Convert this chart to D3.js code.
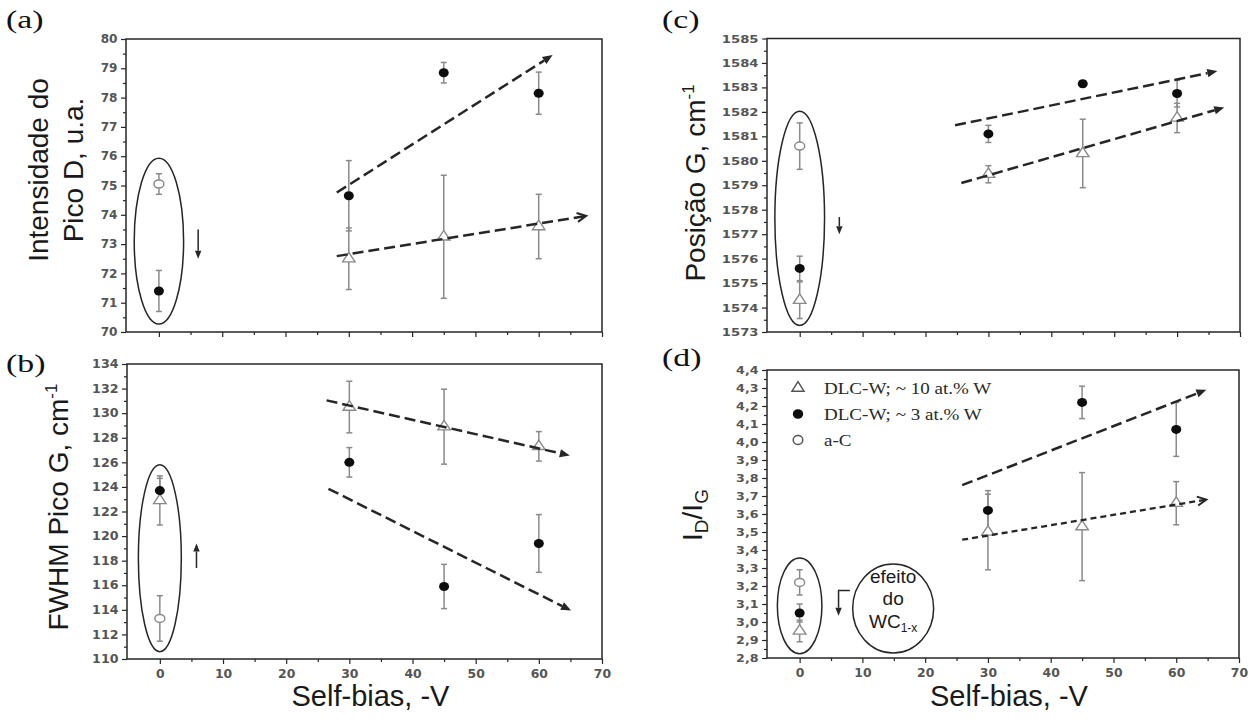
<!DOCTYPE html>
<html>
<head>
<meta charset="utf-8">
<script src="https://cdn.jsdelivr.net/npm/d3@7"></script>
<style>
  body { margin: 0; background: #fff; }
  svg { display: block; }
</style>
</head>
<body>
<svg id="fig" width="1258" height="722"></svg>
<script>
// ---------- data ----------
const biasLevels = [0, 30, 45, 60];          // self-bias, -V
const biasTicks = [0, 10, 20, 30, 40, 50, 60, 70];

// (a) D-peak intensity, u.a.
const intD_W10 = [null, 72.5, 73.25, 73.6];
const intD_W10_err = [null, 1.05, 2.1, 1.1];
const intD_W3 = [71.4, 74.65, 78.85, 78.15];
const intD_W3_err = [0.7, 1.2, 0.35, 0.72];
const intD_aC = [75.05];
const intD_aC_err = [0.35];
const intD_ticks = [70, 71, 72, 73, 74, 75, 76, 77, 78, 79, 80];
const intD_trends = [[28.1, 74.76, 62.2, 79.45], [28.1, 72.59, 67.5, 73.96]];
const intD_group = [0, 73.1, 3.9, 2.83];           // cx, cy, rx, ry
const intD_shift = [[6.2, 73.5], [6.2, 72.5]];

// (b) G-peak FWHM, cm-1
const fwhmG_W10 = [122.9, 130.5, 128.9, 127.3];
const fwhmG_W10_err = [2.0, 2.1, 3.05, 1.2];
const fwhmG_W3 = [123.7, 126.0, 115.9, 119.4];
const fwhmG_W3_err = [1.0, 1.2, 1.8, 2.35];
const fwhmG_aC = [113.3];
const fwhmG_aC_err = [1.85];
const fwhmG_ticks = [110, 112, 114, 116, 118, 120, 122, 124, 126, 128, 130, 132, 134];
const fwhmG_trends = [[26.4, 131.04, 64.9, 126.56], [26.7, 123.85, 65.1, 113.94]];
const fwhmG_group = [0, 118.2, 3.4, 7.6];
const fwhmG_shift = [[5.8, 117.4], [5.8, 119.4]];

// (c) G-peak position, cm-1
const posG_W10 = [1574.3, 1579.45, 1580.3, 1581.75];
const posG_W10_err = [0.75, 0.35, 1.4, 0.6];
const posG_W3 = [1575.6, 1581.1, 1583.15, 1582.75];
const posG_W3_err = [0.5, 0.35, 0.12, 0.55];
const posG_aC = [1580.6];
const posG_aC_err = [0.95];
const posG_ticks = [1573, 1574, 1575, 1576, 1577, 1578, 1579, 1580, 1581, 1582, 1583, 1584, 1585];
const posG_trends = [[24.7, 1581.45, 66.4, 1583.67], [25.7, 1579.09, 67.5, 1582.18]];
const posG_group = [0, 1577.65, 3.95, 4.38];
const posG_shift = [[6.3, 1577.7], [6.3, 1577.0]];

// (d) ID/IG ratio
const ratio_W10 = [2.95, 3.50, 3.53, 3.66];
const ratio_W10_err = [0.06, 0.21, 0.30, 0.12];
const ratio_W3 = [3.05, 3.62, 4.22, 4.07];
const ratio_W3_err = [0.05, 0.11, 0.09, 0.15];
const ratio_aC = [3.22];
const ratio_aC_err = [0.07];
const ratio_ticks = [2.8, 2.9, 3.0, 3.1, 3.2, 3.3, 3.4, 3.5, 3.6, 3.7, 3.8, 3.9, 4.0, 4.1, 4.2, 4.3, 4.4];
const ratio_trends = [[25.9, 3.76, 64.8, 4.29], [25.9, 3.457, 64.8, 3.68]];
const ratio_group = [0, 3.09, 3.55, 0.266];
const ratio_shift = [[8.0, 3.175], [6.2, 3.175], [6.2, 3.035]];
const wcNote = [14.9, 3.075, 6.45, 0.247];

const legendLabels = ["DLC-W; ~ 10 at.% W", "DLC-W; ~ 3 at.% W", "a-C"];

// ---------- drawing ----------
const svg = d3.select("#fig");
const xDomain = [-5.2, 70];
const INK = "#262626", GREY = "#8a8a8a", TICKTXT = "#555";

function tri(w, h) {
  return `M0,${-h * 2 / 3}L${w / 2},${h / 3}L${-w / 2},${h / 3}Z`;
}

function arrowHead(g, x1, y1, x2, y2, type) {
  const a = Math.atan2(y2 - y1, x2 - x1);
  const L = type === "open" ? 9 : 10, W = type === "open" ? 4.5 : 4.2;
  const bx = x2 - L * Math.cos(a), by = y2 - L * Math.sin(a);
  const px = -Math.sin(a) * W, py = Math.cos(a) * W;
  if (type === "open") {
    g.append("path")
      .attr("d", `M${bx + px},${by + py}L${x2},${y2}L${bx - px},${by - py}`)
      .attr("fill", "none").attr("stroke", INK).attr("stroke-width", 2);
  } else {
    g.append("path")
      .attr("d", `M${x2},${y2}L${bx + px},${by + py}L${bx - px},${by - py}Z`)
      .attr("fill", INK);
  }
  return [bx, by];
}

function drawPanel(p) {
  const g = svg.append("g");
  const x = d3.scaleLinear().domain(xDomain).range([p.left, p.right]);
  const y = d3.scaleLinear().domain(d3.extent(p.ticks)).range([p.bottom, p.top]);

  // y axis: labelled major ticks + minor ticks
  const step = p.ticks[1] - p.ticks[0];
  const yMinor = p.ticks.slice(0, -1).map(v => v + step / 2);
  const ya = g.append("g").attr("transform", `translate(${p.left},0)`)
    .call(d3.axisLeft(y).tickValues(p.ticks).tickSize(5).tickPadding(3).tickFormat(p.fmt));
  g.append("g").attr("transform", `translate(${p.left},0)`)
    .call(d3.axisLeft(y).tickValues(yMinor).tickSize(3).tickFormat(""))
    .call(s => s.select(".domain").remove())
    .selectAll("line").attr("stroke", INK).attr("stroke-width", 1.2);
  ya.select(".domain").remove();
  ya.selectAll("line").attr("stroke", INK).attr("stroke-width", 1.2);
  ya.selectAll("text")
    .attr("font-family", "DejaVu Sans").attr("font-weight", "bold")
    .attr("font-size", p.fs).attr("fill", TICKTXT)
    .attr("x", -8.5 / p.sx).attr("transform", `scale(${p.sx},1)`);

  // x axis
  const xMinor = biasTicks.slice(0, -1).map(v => v + 5);
  const xa = g.append("g").attr("transform", `translate(0,${p.bottom})`)
    .call(d3.axisBottom(x).tickValues(biasTicks).tickSize(5).tickPadding(6)
      .tickFormat(p.xLabels ? d3.format("d") : ""));
  g.append("g").attr("transform", `translate(0,${p.bottom})`)
    .call(d3.axisBottom(x).tickValues(xMinor).tickSize(3).tickFormat(""))
    .call(s => s.select(".domain").remove())
    .selectAll("line").attr("stroke", INK).attr("stroke-width", 1.2);
  xa.select(".domain").remove();
  xa.selectAll("line").attr("stroke", INK).attr("stroke-width", 1.2);
  xa.selectAll("text")
    .attr("font-family", "DejaVu Sans").attr("font-weight", "bold")
    .attr("font-size", 11.5).attr("fill", TICKTXT)
    .attr("transform", "scale(1.08,1)");

  // frame
  g.append("rect")
    .attr("x", p.left).attr("y", p.top)
    .attr("width", p.right - p.left).attr("height", p.bottom - p.top)
    .attr("fill", "none").attr("stroke", INK).attr("stroke-width", 1.5);

  // group ellipse around the unbiased samples
  const [gcx, gcy, grx, gry] = p.group;
  g.append("ellipse")
    .attr("cx", x(gcx)).attr("cy", y(gcy))
    .attr("rx", x(grx) - x(0)).attr("ry", y(gcy - gry) - y(gcy))
    .attr("fill", "none").attr("stroke", INK).attr("stroke-width", 1.5);

  // error bars
  const series = [
    { v: p.w10, e: p.w10e, xs: biasLevels, kind: "tri" },
    { v: p.w3, e: p.w3e, xs: biasLevels, kind: "dot" },
    { v: p.ac, e: p.ace, xs: [0], kind: "ring" }
  ];
  series.forEach(s => {
    s.v.forEach((v, i) => {
      if (v == null) return;
      const cx = x(s.xs[i]), lo = y(v - s.e[i]), hi = y(v + s.e[i]);
      const eb = g.append("g").attr("stroke", GREY).attr("stroke-width", 1.5);
      eb.append("line").attr("x1", cx).attr("x2", cx).attr("y1", lo).attr("y2", hi);
      eb.append("line").attr("x1", cx - 3).attr("x2", cx + 3).attr("y1", lo).attr("y2", lo);
      eb.append("line").attr("x1", cx - 3).attr("x2", cx + 3).attr("y1", hi).attr("y2", hi);
    });
  });
  // markers
  series.forEach(s => {
    s.v.forEach((v, i) => {
      if (v == null) return;
      const cx = x(s.xs[i]), cy = y(v);
      if (s.kind === "tri") {
        g.append("path").attr("d", tri(12.5, 9.5))
          .attr("transform", `translate(${cx},${cy})`)
          .attr("fill", "#fff").attr("stroke", GREY).attr("stroke-width", 1.4);
      } else if (s.kind === "dot") {
        g.append("ellipse").attr("cx", cx).attr("cy", cy).attr("rx", 5).attr("ry", 4.5)
          .attr("fill", "#0d0d0d");
      } else {
        g.append("ellipse").attr("cx", cx).attr("cy", cy).attr("rx", 5).attr("ry", 4)
          .attr("fill", "#fff").attr("stroke", GREY).attr("stroke-width", 1.5);
      }
    });
  });

  // dashed trend arrows
  p.trends.forEach((t, i) => {
    const st = p.trendStyle[i];
    const x1 = x(t[0]), y1 = y(t[1]), x2 = x(t[2]), y2 = y(t[3]);
    const [bx, by] = arrowHead(g, x1, y1, x2, y2, st.head);
    const ex = st.head === "open" ? x2 : bx, ey = st.head === "open" ? y2 : by;
    g.append("line").attr("x1", x1).attr("y1", y1).attr("x2", ex).attr("y2", ey)
      .attr("stroke", INK).attr("stroke-width", st.w).attr("stroke-dasharray", st.dash);
  });

  // small shift arrow
  const pts = p.shift.map(d => [x(d[0]), y(d[1])]);
  const n = pts.length;
  const [hx, hy] = pts[n - 1];
  const [px0, py0] = pts[n - 2];
  const a = Math.atan2(hy - py0, hx - px0);
  const L = 8, W = 3.2;
  const bx = hx - L * Math.cos(a), by = hy - L * Math.sin(a);
  const qx = -Math.sin(a) * W, qy = Math.cos(a) * W;
  g.append("path").attr("d", `M${hx},${hy}L${bx + qx},${by + qy}L${bx - qx},${by - qy}Z`).attr("fill", INK);
  g.append("path").attr("d", d3.line()(pts.slice(0, -1).concat([[bx, by]])))
    .attr("fill", "none").attr("stroke", INK).attr("stroke-width", 1.5);

  // panel letter
  g.append("text").attr("transform", `translate(${p.tag[0]},${p.tag[1]}) scale(1.3,1)`)
    .attr("font-family", "Liberation Serif").attr("font-size", 26).attr("fill", "#111")
    .text(p.tagText);

  return { g, x, y };
}

const fmtInt = d3.format("d");
const fmtComma = v => d3.format(".1f")(v).replace(".", ",");

const pa = drawPanel({
  left: 126, right: 602, top: 39, bottom: 332, sx: 1.05, fs: 11.5,
  ticks: intD_ticks, fmt: fmtInt, xLabels: false,
  w10: intD_W10, w10e: intD_W10_err, w3: intD_W3, w3e: intD_W3_err, ac: intD_aC, ace: intD_aC_err,
  trends: intD_trends,
  trendStyle: [{ head: "filled", dash: "11,5", w: 2.5 }, { head: "open", dash: "11,5", w: 2.5 }],
  group: intD_group, shift: intD_shift, tag: [6, 28], tagText: "(a)"
});
const pb = drawPanel({
  left: 127, right: 602, top: 364, bottom: 659, sx: 1.1, fs: 11.5,
  ticks: fwhmG_ticks, fmt: fmtInt, xLabels: true,
  w10: fwhmG_W10, w10e: fwhmG_W10_err, w3: fwhmG_W3, w3e: fwhmG_W3_err, ac: fwhmG_aC, ace: fwhmG_aC_err,
  trends: fwhmG_trends,
  trendStyle: [{ head: "filled", dash: "11,5", w: 2.5 }, { head: "filled", dash: "11,5", w: 2.5 }],
  group: fwhmG_group, shift: fwhmG_shift, tag: [6, 372], tagText: "(b)"
});
const pc = drawPanel({
  left: 767, right: 1240, top: 38.5, bottom: 332, sx: 1.2, fs: 11,
  ticks: posG_ticks, fmt: fmtInt, xLabels: false,
  w10: posG_W10, w10e: posG_W10_err, w3: posG_W3, w3e: posG_W3_err, ac: posG_aC, ace: posG_aC_err,
  trends: posG_trends,
  trendStyle: [{ head: "filled", dash: "11,5", w: 2.5 }, { head: "filled", dash: "11,5", w: 2.5 }],
  group: posG_group, shift: posG_shift, tag: [662, 28], tagText: "(c)"
});
const pd = drawPanel({
  left: 767, right: 1239, top: 370, bottom: 658, sx: 1.15, fs: 11,
  ticks: ratio_ticks, fmt: fmtComma, xLabels: true,
  w10: ratio_W10, w10e: ratio_W10_err, w3: ratio_W3, w3e: ratio_W3_err, ac: ratio_aC, ace: ratio_aC_err,
  trends: ratio_trends,
  trendStyle: [{ head: "filled", dash: "11,5", w: 2.5 }, { head: "open", dash: "6,4", w: 2.3 }],
  group: ratio_group, shift: ratio_shift, tag: [662, 366], tagText: "(d)"
});

// annotation bubble in (d)
pd.g.append("ellipse")
  .attr("cx", pd.x(wcNote[0])).attr("cy", pd.y(wcNote[1]))
  .attr("rx", pd.x(wcNote[2]) - pd.x(0)).attr("ry", pd.y(wcNote[1] - wcNote[3]) - pd.y(wcNote[1]))
  .attr("fill", "none").attr("stroke", INK).attr("stroke-width", 1.5);
const note = pd.g.append("text").attr("font-family", "Liberation Sans").attr("font-size", 19)
  .attr("fill", "#1a1a1a").attr("text-anchor", "middle");
const ncx = pd.x(wcNote[0]);
note.append("tspan").attr("x", ncx).attr("y", 583).text("efeito");
note.append("tspan").attr("x", ncx).attr("y", 605).text("do");
const wc = note.append("tspan").attr("x", ncx).attr("y", 628);
wc.append("tspan").text("WC");
wc.append("tspan").attr("font-size", 12).attr("dy", 4).text("1-x");

// legend in (d)
const legX = 798, legTextX = 824, legY = [388, 414, 440];
const leg = pd.g.append("g");
leg.append("path").attr("d", tri(12, 9.5)).attr("transform", `translate(${legX},${legY[0]})`)
  .attr("fill", "#fff").attr("stroke", "#555").attr("stroke-width", 1.5);
leg.append("ellipse").attr("cx", legX).attr("cy", legY[1]).attr("rx", 5.2).attr("ry", 4.8).attr("fill", "#0d0d0d");
leg.append("ellipse").attr("cx", legX).attr("cy", legY[2]).attr("rx", 4.8).attr("ry", 4.4)
  .attr("fill", "#fff").attr("stroke", "#555").attr("stroke-width", 1.5);
legendLabels.forEach((t, i) => {
  leg.append("text").attr("transform", `translate(${legTextX},${legY[i] + 5.5}) scale(1.12,1)`)
    .attr("font-family", "Liberation Serif").attr("font-size", 17).attr("fill", "#2a2a2a").text(t);
});

// axis titles
const TITLE = { family: "Liberation Sans", size: 28, fill: "#1a1a1a" };
function vTitle(xb, yc) {
  return svg.append("text").attr("transform", `translate(${xb},${yc}) rotate(-90)`)
    .attr("text-anchor", "middle").attr("font-family", TITLE.family)
    .attr("font-size", TITLE.size).attr("fill", TITLE.fill);
}
vTitle(48, 170).text("Intensidade do");
vTitle(83, 170).text("Pico D, u.a.");
const tb = vTitle(68, 507);
tb.append("tspan").text("FWHM Pico G, cm");
tb.append("tspan").attr("font-size", 17).attr("dy", -11).text("-1");
const tc = vTitle(705, 183);
tc.append("tspan").text("Posição G, cm");
tc.append("tspan").attr("font-size", 17).attr("dy", -11).text("-1");
const td = vTitle(702, 515);
td.append("tspan").text("I");
td.append("tspan").attr("font-size", 19).attr("dy", 6).text("D");
td.append("tspan").attr("dy", -6).text("/I");
td.append("tspan").attr("font-size", 19).attr("dy", 6).text("G");

[pb, pd].forEach(p => {
  svg.append("text")
    .attr("x", (p.x.range()[0] + p.x.range()[1]) / 2 + 6).attr("y", 706)
    .attr("text-anchor", "middle").attr("font-family", TITLE.family)
    .attr("font-size", 29).attr("fill", TITLE.fill).text("Self-bias, -V");
});
</script>
</body>
</html>
